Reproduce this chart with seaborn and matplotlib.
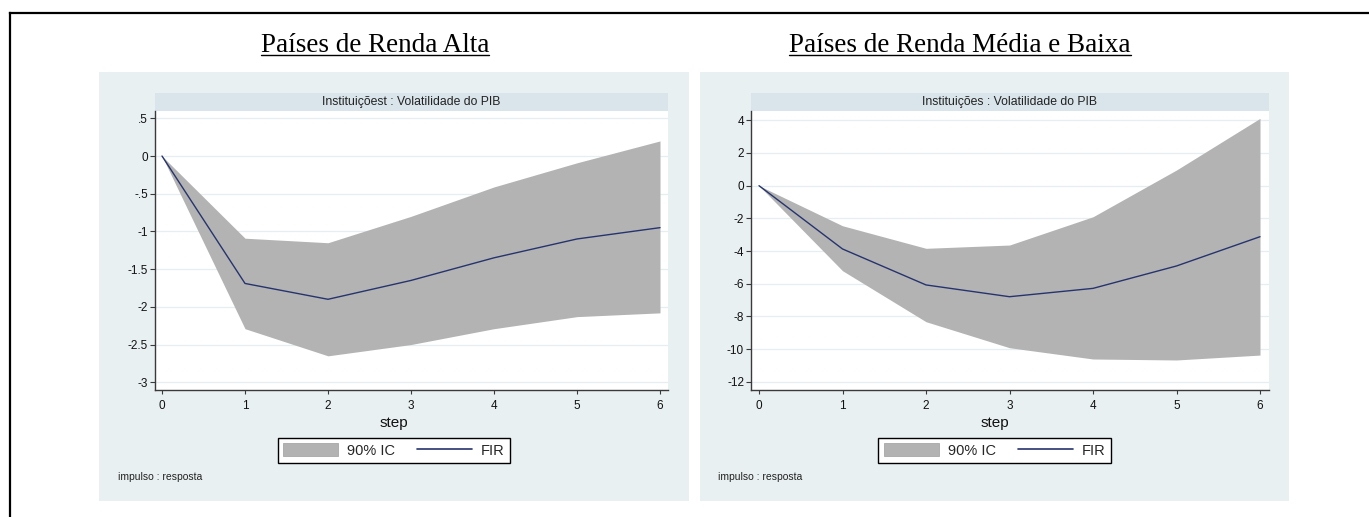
import matplotlib
matplotlib.use("Agg")
import matplotlib.pyplot as plt
import seaborn as sns
import pandas as pd
from matplotlib.patches import Rectangle, Patch
from matplotlib.lines import Line2D

# ---------------- data ----------------
steps = [0, 1, 2, 3, 4, 5, 6]

alta_fir = [0, -1.69, -1.90, -1.65, -1.35, -1.10, -0.95]
alta_upper = [0, -1.09, -1.15, -0.80, -0.41, -0.09, 0.20]
alta_lower = [0, -2.29, -2.65, -2.50, -2.29, -2.13, -2.08]

baixa_fir = [0, -3.87, -6.07, -6.79, -6.28, -4.91, -3.12]
baixa_upper = [0, -2.45, -3.83, -3.63, -1.90, 0.96, 4.12]
baixa_lower = [0, -5.20, -8.32, -9.91, -10.60, -10.66, -10.36]

alta_yticks = [0.5, 0, -0.5, -1, -1.5, -2, -2.5, -3]
alta_yticklabels = [".5", "0", "-.5", "-1", "-1.5", "-2", "-2.5", "-3"]
baixa_yticks = [4, 2, 0, -2, -4, -6, -8, -10, -12]
baixa_yticklabels = ["4", "2", "0", "-2", "-4", "-6", "-8", "-10", "-12"]

titles = ["Países de Renda Alta", "Países de Renda Média e Baixa"]
strip_titles = ["Instituiçõest : Volatilidade do PIB", "Instituições : Volatilidade do PIB"]
legend_labels = ["90% IC", "FIR"]
xlabel = "step"
note = "impulso : resposta"

# ---------------- style ----------------
sns.set_theme(style="white")
plt.rcParams['font.family'] = ['Liberation Sans', 'DejaVu Sans']
plt.rcParams['axes.unicode_minus'] = False

W, H = 1369, 517
BG = "#E9F0F2"
STRIP = "#D9E5EA"
FILL = "#B3B3B3"
NAVY = "#26346E"
GRID = "#E6EEF0"
AXC = "#3A3A3A"

fig = plt.figure(figsize=(W / 100, H / 100), dpi=100)
fig.patch.set_facecolor("white")


def fx(x):
    return x / W


def fy(y):
    return 1 - y / H


def px_rect(x0, y0, x1, y1):
    return [x0 / W, 1 - y1 / H, (x1 - x0) / W, (y1 - y0) / H]


# outer border (top and left only)
fig.add_artist(Line2D([fx(10), 1.0], [fy(13), fy(13)], transform=fig.transFigure,
                      color="black", lw=1.6, solid_capstyle="projecting"))
fig.add_artist(Line2D([fx(10), fx(10)], [fy(13), 0.0], transform=fig.transFigure,
                      color="black", lw=1.6, solid_capstyle="projecting"))

panels = [
    dict(bg=(99.3, 72, 688.7, 501), ax=(154.7, 110.7, 668.3, 390),
         xlim=(-0.088, 6.10), ylim=(-3.103, 0.601),
         fir=alta_fir, up=alta_upper, lo=alta_lower,
         yt=alta_yticks, ytl=alta_yticklabels, title_x=375),
    dict(bg=(700, 72, 1289, 501), ax=(751, 110.7, 1268.6, 390),
         xlim=(-0.096, 6.103), ylim=(-12.496, 4.587),
         fir=baixa_fir, up=baixa_upper, lo=baixa_lower,
         yt=baixa_yticks, ytl=baixa_yticklabels, title_x=960),
]

title_texts = []
for i, p in enumerate(panels):
    bx0, by0, bx1, by1 = p["bg"]
    fig.add_artist(Rectangle((fx(bx0), fy(by1)), (bx1 - bx0) / W, (by1 - by0) / H,
                             transform=fig.transFigure, facecolor=BG,
                             edgecolor="none", zorder=-1))
    ax0, ay0, ax1, ay1 = p["ax"]
    # strip
    fig.add_artist(Rectangle((fx(ax0), fy(ay0)), (ax1 - ax0) / W, (ay0 - 93) / H,
                             transform=fig.transFigure, facecolor=STRIP,
                             edgecolor="none", zorder=-0.5))
    fig.text(fx((ax0 + ax1) / 2), fy((ay0 + 93) / 2 + 0.5), strip_titles[i],
             ha="center", va="center", fontsize=8.8, color="#222222")

    ax = fig.add_axes(px_rect(ax0, ay0, ax1, ay1))
    ax.set_facecolor("white")
    df = pd.DataFrame({"step": steps, "fir": p["fir"], "lo": p["lo"], "up": p["up"]})
    ax.fill_between(df["step"], df["lo"], df["up"], color=FILL, lw=0, zorder=2)
    sns.lineplot(data=df, x="step", y="fir", ax=ax, color=NAVY, lw=1.0,
                 zorder=3, legend=False)
    ax.set_xlim(*p["xlim"])
    ax.set_ylim(*p["ylim"])
    ax.set_xticks(steps)
    ax.set_xticklabels([str(s) for s in steps])
    ax.set_yticks(p["yt"])
    ax.set_yticklabels(p["ytl"])
    ax.set_xlabel("")
    ax.set_ylabel("")
    ax.grid(axis="y", color=GRID, lw=0.9)
    ax.grid(axis="x", visible=False)
    ax.set_axisbelow(True)
    for s in ["top", "right"]:
        ax.spines[s].set_visible(False)
    for s in ["left", "bottom"]:
        ax.spines[s].set_color(AXC)
        ax.spines[s].set_linewidth(1.0)
    ax.tick_params(axis="x", direction="out", length=3, width=0.8, color=AXC,
                   labelsize=8.5, pad=4.0, bottom=True, labelcolor="#111111")
    ax.tick_params(axis="y", direction="out", length=3.5, width=0.8, color=AXC,
                   labelsize=8.5, pad=1.5, left=True, labelcolor="#111111")

    cx = (bx0 + bx1) / 2
    fig.text(fx(cx), fy(423.5), xlabel, ha="center", va="center", fontsize=11,
             color="#111111")
    handles = [Patch(facecolor=FILL, edgecolor="#A8A8A8", lw=0.6),
               Line2D([], [], color=NAVY, lw=1.2)]
    leg = fig.legend(handles=handles, labels=legend_labels, ncol=2, loc="center",
                     bbox_to_anchor=(fx(cx), fy(450.4)), frameon=True,
                     fancybox=False, edgecolor="black", framealpha=1,
                     facecolor="white", fontsize=10.5, handlelength=3.8,
                     handleheight=1.0, handletextpad=0.6, columnspacing=1.5,
                     borderpad=0.35)
    leg.get_frame().set_linewidth(1.0)
    fig.text(fx(bx0 + 18.4), fy(476.7), note, ha="left", va="center",
             fontsize=7.5, color="#222222")

    t = fig.text(fx(p["title_x"]), fy(51.7), titles[i], ha="center", va="baseline",
                 fontsize=19.5, family=["Liberation Serif", "DejaVu Serif"],
                 color="black")
    title_texts.append(t)

# underline titles
fig.canvas.draw()
inv = fig.transFigure.inverted()
for t in title_texts:
    bb = t.get_window_extent()
    (x0, _), (x1, _) = inv.transform([(bb.x0, bb.y0), (bb.x1, bb.y0)])
    fig.add_artist(Line2D([x0, x1], [fy(54.5), fy(54.5)], transform=fig.transFigure,
                          color="black", lw=1.0))

fig.savefig("out.png", dpi=100)
